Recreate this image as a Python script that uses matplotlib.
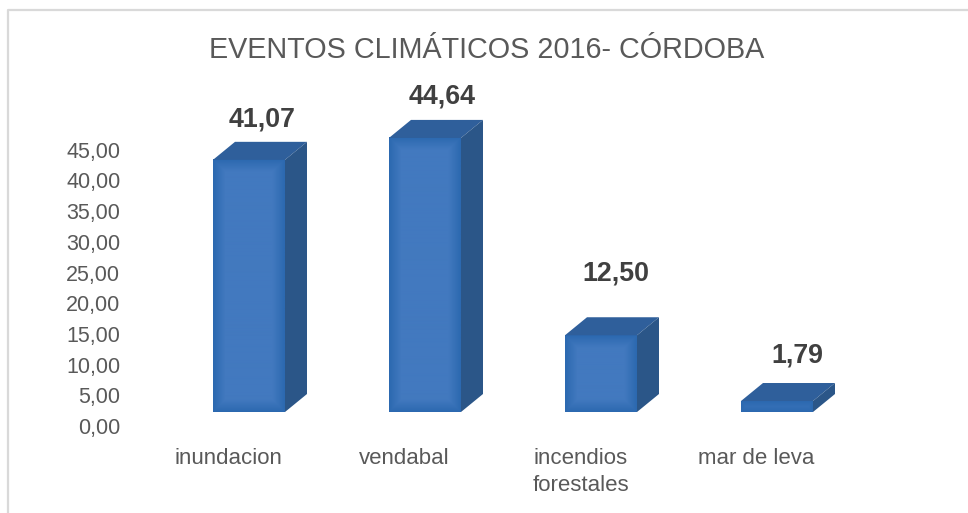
import numpy as np
import matplotlib
matplotlib.use("Agg")
import matplotlib.pyplot as plt
from matplotlib.patches import Polygon
from matplotlib.transforms import ScaledTranslation

plt.rcParams['font.family'] = ['Liberation Sans', 'DejaVu Sans']

categories = ["inundacion", "vendabal", "incendios\nforestales", "mar de leva"]
values = [41.07, 44.64, 12.50, 1.79]
value_labels = ["41,07", "44,64", "12,50", "1,79"]
y_ticks = [0, 5, 10, 15, 20, 25, 30, 35, 40, 45]
y_tick_labels = ["0,00", "5,00", "10,00", "15,00", "20,00", "25,00", "30,00", "35,00", "40,00", "45,00"]

# where the value labels sit relative to the front top corner centre, in px
label_dx = [13, 17, 14.5, 20]
label_dy = [40, 41, 62, 46]

W, H = 968, 513
fig = plt.figure(figsize=(W / 100, H / 100), dpi=100)
fig.patch.set_facecolor("white")

# frame of the chart: only left and top are in the picture
fig.add_artist(plt.Line2D([8 / W, 8 / W, 1], [0, 1 - 10 / H, 1 - 10 / H], color="#d9d9d9", lw=1.6))

# axes: bar floor at y=412 px, 6.14 px per unit, 176 px per category
left, right, bottom, top = 130, 860, 412, 80
ax = fig.add_axes([left / W, 1 - bottom / H, (right - left) / W, (bottom - top) / H])
px_x, px_y = 176.0, 6.14
ax.patch.set_alpha(0)
for s in ax.spines.values():
    s.set_visible(False)

bar_w = 72 / px_x
dx, dy = 22 / px_x, 18 / px_y
cmap = matplotlib.colors.LinearSegmentedColormap.from_list("front", ["#2c69b0", "#4279bf"])
side_cmap = matplotlib.colors.LinearSegmentedColormap.from_list("side", ["#2b5a92", "#2a507f"])

for i, v in enumerate(values):
    x0, x1 = i - bar_w / 2, i + bar_w / 2

    # front face: darker band along the edges, lighter in the middle
    rows, cols = max(int(v * px_y), 2), 72
    edge_y = np.minimum(np.arange(rows), np.arange(rows)[::-1]) / 12
    edge_x = np.minimum(np.arange(cols), np.arange(cols)[::-1]) / 12
    grad = np.clip(np.minimum.outer(edge_y, edge_x), 0, 1)
    ax.imshow(grad, extent=(x0, x1, 0, v), aspect="auto", cmap=cmap, vmin=0, vmax=1, zorder=3,
              interpolation="bilinear")

    ax.add_patch(Polygon([(x0, v), (x1, v), (x1 + dx, v + dy), (x0 + dx, v + dy)], fc="#2f5f9b", ec="none", zorder=3))
    ax.add_patch(Polygon([(x1, 0), (x1 + dx, dy), (x1 + dx, v + dy), (x1, v)], fc="#2b5688", ec="none", zorder=3))
    ax.text(i + label_dx[i] / px_x, v + label_dy[i] / px_y, value_labels[i], ha="center", va="center",
            fontsize=19.3, fontweight="bold", color="#404040", zorder=4)

ax.set_xlim((left - 249) / px_x, (right - 249) / px_x)
ax.set_ylim(0, (bottom - top) / px_y)

ax.set_xticks(range(len(categories)))
ax.set_xticklabels(categories, fontsize=16, color="#595959", linespacing=1.36, va="top")
ax.tick_params(axis="x", length=0, pad=26)
ax.set_yticks(y_ticks)
ax.set_yticklabels(y_tick_labels, fontsize=15.5, color="#595959")
ax.tick_params(axis="y", length=0, pad=7)

# value axis labels sit 14 px below their bar height, category labels 20 px left, as in a 3D chart
shift_y = ScaledTranslation(0, -14 / 100, fig.dpi_scale_trans)
for lab in ax.get_yticklabels():
    lab.set_transform(lab.get_transform() + shift_y)
shift_x = ScaledTranslation(-20.5 / 100, 0, fig.dpi_scale_trans)
for lab in ax.get_xticklabels():
    lab.set_transform(lab.get_transform() + shift_x)

fig.text(487 / W, 1 - 58 / H, "EVENTOS CLIMÁTICOS 2016- CÓRDOBA", ha="center", va="baseline",
         fontsize=20.7, color="#595959")

fig.savefig("out.png", dpi=100)
